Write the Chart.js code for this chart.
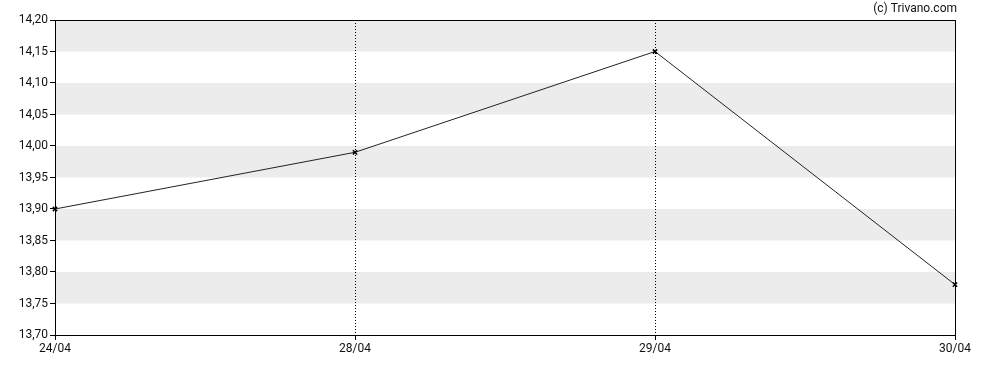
<!DOCTYPE html>
<html lang="en">
<head>
  <meta charset="UTF-8">
  <title>Trivano chart</title>
  <script src="https://cdn.jsdelivr.net/npm/chart.js"></script>
  <style>
    html, body { margin: 0; padding: 0; background: #fff; }
    #wrap { width: 988px; height: 370px; }
  </style>
</head>
<body>
  <div id="wrap"><canvas id="priceChart" width="988" height="370"></canvas></div>

  <script>
    const dates = ['24/04', '28/04', '29/04', '30/04'];
    const prices = [13.90, 13.99, 14.15, 13.78];
    const yMin = 13.70;
    const yMax = 14.20;
    const yStep = 0.05;

    Chart.defaults.font.family = 'Roboto, "DejaVu Sans", sans-serif';
    Chart.defaults.font.size = 12;
    Chart.defaults.color = '#111';

    // grey bands between every other pair of y ticks, plus the frame and credit
    const decor = {
      id: 'decor',
      beforeDraw(chart) {
        const { ctx, chartArea, scales } = chart;
        const ticks = scales.y.ticks;
        ctx.save();
        ctx.fillStyle = '#ececec';
        for (let i = 1; i < ticks.length - 1; i += 2) {
          const top = scales.y.getPixelForValue(ticks[i + 1].value);
          const bot = scales.y.getPixelForValue(ticks[i].value);
          ctx.fillRect(chartArea.left, top, chartArea.right - chartArea.left, bot - top);
        }
        ctx.restore();
      },
      afterDraw(chart) {
        const { ctx, chartArea } = chart;
        ctx.save();
        ctx.strokeStyle = '#000';
        ctx.lineWidth = 1;
        ctx.strokeRect(Math.round(chartArea.left) + 0.5, Math.round(chartArea.top) + 0.5,
          Math.round(chartArea.right - chartArea.left), Math.round(chartArea.bottom - chartArea.top));
        ctx.fillStyle = '#111';
        ctx.font = '12px Roboto, sans-serif';
        ctx.textAlign = 'right';
        ctx.textBaseline = 'middle';
        ctx.fillText('(c) Trivano.com', 957, 9);
        ctx.restore();
      }
    };

    const ctx = document.getElementById('priceChart').getContext('2d');
    new Chart(ctx, {
      type: 'line',
      data: {
        labels: dates,
        datasets: [{
          data: prices,
          borderColor: '#222',
          borderWidth: 1,
          pointStyle: 'crossRot',
          pointRadius: 3,
          pointBorderColor: '#000',
          pointBorderWidth: 1.5,
          tension: 0
        }]
      },
      options: {
        responsive: false,
        animation: false,
        layout: { padding: { top: 20, right: 33, left: 0, bottom: 0 } },
        plugins: { legend: { display: false }, tooltip: { enabled: false } },
        scales: {
          x: {
            offset: false,
            afterFit(scale) { scale.height = 35; },
            border: { display: false, dash: [1, 2] },
            grid: {
              drawOnChartArea: true,
              color: c => (c.index === 0 || c.index === dates.length - 1) ? 'rgba(0,0,0,0)' : '#000',
              lineWidth: 1,
              drawTicks: true,
              tickLength: 5,
              tickColor: '#000',
              tickBorderDash: []
            },
            ticks: { padding: 2, maxRotation: 0, autoSkip: false, color: '#111' }
          },
          y: {
            min: yMin,
            max: yMax,
            afterFit(scale) { scale.width = 55; },
            border: { display: false },
            grid: {
              drawOnChartArea: false,
              drawTicks: true,
              tickLength: 5,
              tickColor: '#000'
            },
            ticks: {
              stepSize: yStep,
              padding: 2,
              color: '#111',
              callback: v => v.toFixed(2).replace('.', ',')
            }
          }
        }
      },
      plugins: [decor]
    });
  </script>
</body>
</html>
